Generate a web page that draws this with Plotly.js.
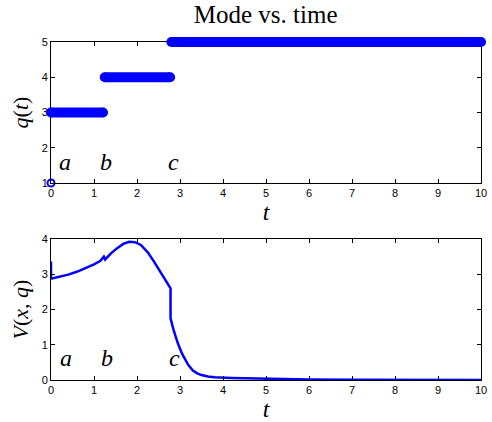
<!DOCTYPE html>
<html>
<head>
<meta charset="utf-8">
<script src="https://cdn.plot.ly/plotly-3.0.1.min.js"></script>
<style>html,body{margin:0;padding:0;background:#fff;}#chart{width:492px;height:422px;}</style>
</head>
<body>
<div id="chart"></div>
<script>
// Mode segments (top panel)
const segStart = [0, 1.25, 2.80];
const segEnd   = [1.21, 2.77, 10];
const segMode  = [3, 4, 5];
// Initial mode marker
const initT = [0];
const initQ = [1];
// Lyapunov function V(x,q) (bottom panel)
const vT = [0, 0, 0.02, 0.2, 0.4, 0.6, 0.8, 1.0, 1.15, 1.23, 1.26, 1.3, 1.4, 1.54, 1.68, 1.82, 1.95, 2.09, 2.25, 2.4, 2.55, 2.7, 2.78, 2.78, 2.85, 2.95, 3.05, 3.19, 3.3, 3.4, 3.5, 3.65, 3.81, 4.2, 4.6, 5.0, 5.5, 6.0, 7.0, 8.0, 9.0, 10.0];
const vV = [3.36, 2.88, 2.88, 2.93, 2.99, 3.07, 3.17, 3.28, 3.38, 3.50, 3.42, 3.48, 3.60, 3.74, 3.86, 3.92, 3.91, 3.83, 3.62, 3.35, 3.04, 2.73, 2.60, 1.75, 1.42, 1.04, 0.74, 0.43, 0.27, 0.19, 0.14, 0.10, 0.076, 0.06, 0.05, 0.035, 0.02, 0.012, 0.006, 0.003, 0.002, 0.001];
// Labels
const xTicks = [0,1,2,3,4,5,6,7,8,9,10];
const qTicks = [1,2,3,4,5];
const vTicks = [0,1,2,3,4];
const labels = ['a','b','c'];
const labelTTop = [0.33, 1.28, 2.84];
const labelQ = 1.6;
const labelTBot = [0.35, 1.31, 2.88];
const labelV = 0.62;

// layout geometry
const H = 422, mT = 30, mB = 42;
const plotH = H - mT - mB;            // 350
const topDom = [0.5629, 0.9657];
const botDom = [0, 0.4029];
const qRange = [1, 5];
// separate hidden axis for the thick mode bars, extended so they are not clipped at q=5
const padPx = 10;
const padFrac = padPx / plotH;
const pxPerUnit = (topDom[1] - topDom[0]) * plotH / (qRange[1] - qRange[0]);
const padUnits = padPx / pxPerUnit;

const blue = 'rgb(0,0,255)';
const traces = [];
for (let i = 0; i < segMode.length; i++) {
  traces.push({x:[segStart[i], segEnd[i]], y:[segMode[i], segMode[i]], xaxis:'x', yaxis:'y3',
    mode:'lines+markers', line:{color:blue, width:10}, marker:{color:blue, size:10},
    cliponaxis:false, showlegend:false, hoverinfo:'skip'});
}
traces.push({x:initT, y:initQ, xaxis:'x', yaxis:'y', mode:'markers',
  marker:{color:'rgba(0,0,0,0)', size:7, line:{color:blue, width:2}}, cliponaxis:false, showlegend:false});
traces.push({x:vT, y:vV, xaxis:'x2', yaxis:'y2', mode:'lines', line:{color:blue, width:2.5},
  cliponaxis:false, showlegend:false});

const serif = 'Liberation Serif, Times New Roman, serif';
const sans = 'Liberation Sans, Arial, sans-serif';
const axBase = {showgrid:false, zeroline:false, showline:true, linecolor:'#000', linewidth:1,
  mirror:'ticks', ticks:'inside', ticklen:4, tickcolor:'#000', tickwidth:1,
  tickfont:{family:sans, size:11, color:'#000'}};

const annotations = [];
labels.forEach((s, i) => {
  annotations.push({x:labelTTop[i], y:labelQ, xref:'x', yref:'y', text:s, showarrow:false,
    font:{family:serif, size:24, color:'#000', style:'italic'}});
  annotations.push({x:labelTBot[i], y:labelV, xref:'x2', yref:'y2', text:s, showarrow:false,
    font:{family:serif, size:24, color:'#000', style:'italic'}});
});

const layout = {
  width:492, height:H,
  margin:{l:51, r:11, t:mT, b:mB},
  paper_bgcolor:'#fff', plot_bgcolor:'rgba(0,0,0,0)',
  title:{text:'Mode vs. time', font:{family:serif, size:25, color:'#000'}, x:0.54, xanchor:'center',
    yref:'container', y:1 - 14/H, yanchor:'middle'},
  xaxis: Object.assign({}, axBase, {domain:[0,1], range:[0,10], tickvals:xTicks, anchor:'y',
    title:{text:'<i>t</i>', font:{family:serif, size:24, color:'#000'}, standoff:0}}),
  yaxis: Object.assign({}, axBase, {domain:topDom, range:qRange, tickvals:qTicks, anchor:'x',
    title:{text:'<i>q</i>(<i>t</i>)', font:{family:serif, size:22, color:'#000'}, standoff:6}}),
  yaxis3: {anchor:'x', domain:[topDom[0]-padFrac, topDom[1]+padFrac],
    range:[qRange[0]-padUnits, qRange[1]+padUnits], visible:false, showgrid:false, zeroline:false},
  xaxis2: Object.assign({}, axBase, {domain:[0,1], range:[0,10], tickvals:xTicks, anchor:'y2',
    title:{text:'<i>t</i>', font:{family:serif, size:24, color:'#000'}, standoff:0}}),
  yaxis2: Object.assign({}, axBase, {domain:botDom, range:[0,4], tickvals:vTicks, anchor:'x2',
    title:{text:'<i>V</i>(<i>x</i>, <i>q</i>)', font:{family:serif, size:22, color:'#000'}, standoff:6}}),
  annotations: annotations
};
Plotly.newPlot('chart', traces, layout, {displayModeBar:false, staticPlot:true});
</script>
</body>
</html>
